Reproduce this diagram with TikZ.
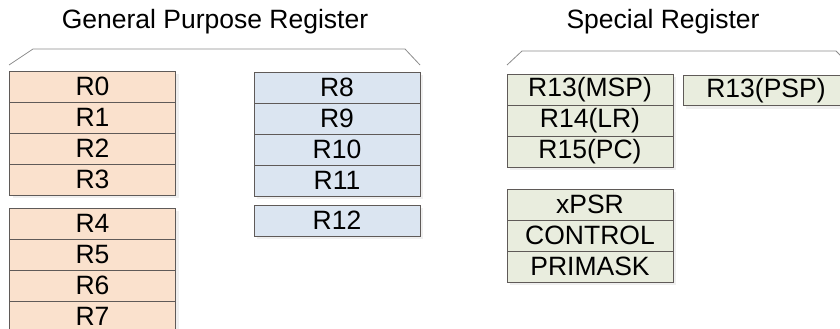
\documentclass[tikz,border=0pt]{standalone}
\usepackage{fontspec}
\setmainfont{Liberation Sans}
\usetikzlibrary{shadows}
\definecolor{gpfill}{RGB}{250,225,205}
\definecolor{hifill}{RGB}{219,229,241}
\definecolor{spfill}{RGB}{233,237,222}
\definecolor{regline}{RGB}{95,90,88}
\tikzset{
  reg/.style={draw=regline, line width=0.8pt, rectangle, inner sep=0pt,
    minimum width=166pt, minimum height=31pt,
    font=\fontsize{26.5}{29}\selectfont,
    drop shadow={shadow xshift=3pt, shadow yshift=-3pt, fill=black!12}},
  brace/.style={draw=black!45, line width=0.8pt},
  title/.style={font=\fontsize{26.5}{29}\selectfont}
}
\begin{document}
\begin{tikzpicture}[x=1pt,y=-1pt]
  \path[clip, use as bounding box] (0,0) rectangle (840,329);
  \node[title] (gptitle) at (215,22) {General Purpose Register};
  \node[title] (sptitle) at (663,22) {Special Register};
  \draw[brace] (9,65) -- (33,49) -- (405,49) -- (420,65);
  \draw[brace] (507,65) -- (522,51) -- (836,51) -- (850,65);
  \foreach \i in {0,...,3}
    \node[reg, fill=gpfill] (r\i) at (92.5,{86.5+31*\i}) {R\i};
  \foreach \i in {4,...,7}
    \node[reg, fill=gpfill] (r\i) at (92.5,{223.5+31*(\i-4)}) {R\i};
  \foreach \i in {8,...,11}
    \node[reg, fill=hifill] (r\i) at (337,{87.5+31*(\i-8)}) {R\i};
  \node[reg, fill=hifill] (r12) at (337,220.5) {R12};
  \node[reg, fill=spfill] (msp) at (590,89.5) {R13(MSP)};
  \node[reg, fill=spfill] (lr) at (590,120.5) {R14(LR)};
  \node[reg, fill=spfill] (pc) at (590,151.5) {R15(PC)};
  \node[reg, fill=spfill, minimum height=30pt] (psp) at (766,90.5) {R13(PSP)};
  \node[reg, fill=spfill] (xpsr) at (590,204.5) {xPSR};
  \node[reg, fill=spfill] (control) at (590,235.5) {CONTROL};
  \node[reg, fill=spfill] (primask) at (590,266.5) {PRIMASK};
\end{tikzpicture}
\end{document}
